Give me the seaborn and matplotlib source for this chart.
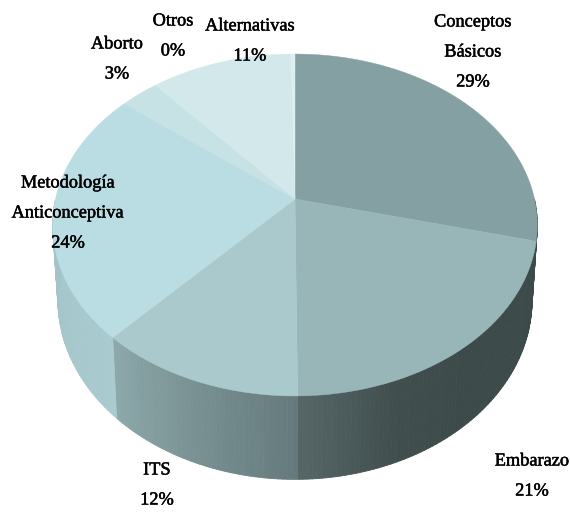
"""
Pie chart in perspective: temas (%) with a shaded outer wall.
Output: out.png
"""

import numpy as np
import matplotlib
matplotlib.use("Agg")
import matplotlib.pyplot as plt
import matplotlib.patheffects as pe
from matplotlib.collections import PolyCollection
import seaborn as sns

# ── Data ──────────────────────────────────────────────────────────────────────
categories = ["Conceptos\nBásicos", "Embarazo", "ITS", "Metodología\nAnticonceptiva",
              "Aborto", "Alternativas", "Otros"]
values = [29, 21, 12, 24, 3, 11, 0.3]
pct_labels = ["29%", "21%", "12%", "24%", "3%", "11%", "0%"]
top_colors = ["#84a0a2", "#98b6b8", "#a9c9cc", "#b9dde2", "#c6e2e5", "#d3e8ea", "#dfeeef"]
wall_stops = [["#3c4a4a", "#3c4a4a"],
              ["#3c4a4a", "#3c4a4a", "#3c4a4a", "#414f4f", "#566666"],
              ["#657a7c", "#8da8aa"],
              ["#a9cbcf", "#9dbcc0"],
              ["#a8c8cc", "#a8c8cc"],
              ["#a8c8cc", "#a8c8cc"],
              ["#a8c8cc", "#a8c8cc"]]
label_xy = [(473, 52), (532, 476), (157, 485), (68, 213), (117, 59), (250, 41), (173, 36)]

# projection of the unit circle
TILT = 0.152
TOP = dict(cx=295, cy=199, a=239.5, b=167)
BOTTOM = dict(cx=295, cy=273, a=234.3, b=175)


def project(theta, cx, cy, a, b):
    x, y = np.sin(theta), np.cos(theta)
    den = 1 + TILT * y
    return cx + a * x / den, cy - b * y / den


def main():
    sns.set_theme(style="white")
    plt.rcParams["font.family"] = ["Liberation Serif", "DejaVu Serif"]

    fig, ax = plt.subplots(figsize=(5.7, 5.15), dpi=100)
    ax.set_position([0, 0, 1, 1])
    ax.set_xlim(0, 570)
    ax.set_ylim(515, 0)
    ax.axis("off")

    shares = np.array(values) / np.sum(values)
    edges = np.concatenate([[0], np.cumsum(shares)]) * 2 * np.pi

    # ── Wall (front half only) ────────────────────────────────────────────────
    quads, colors = [], []
    for i in range(len(values)):
        n = max(2, int(np.degrees(edges[i + 1] - edges[i])))
        theta = np.linspace(edges[i], edges[i + 1], n + 1)
        shades = sns.blend_palette(wall_stops[i], n)
        tx, ty = project(theta, **TOP)
        bx, by = project(theta, **BOTTOM)
        for j in range(n):
            if np.cos(theta[j]) > 0 or np.cos(theta[j + 1]) > 0:
                continue
            quads.append([(tx[j], ty[j]), (tx[j + 1], ty[j + 1]),
                          (bx[j + 1], by[j + 1]), (bx[j], by[j])])
            colors.append(shades[j])
    ax.add_collection(PolyCollection(quads, facecolors=colors, edgecolors=colors, linewidths=0.6))

    # ── Top face ──────────────────────────────────────────────────────────────
    for i, color in enumerate(top_colors):
        theta = np.linspace(edges[i], edges[i + 1], 120)
        x, y = project(theta, **TOP)
        ax.fill(np.r_[TOP["cx"], x], np.r_[TOP["cy"], y], color=color, lw=0.3, zorder=3)

    # ── Labels ────────────────────────────────────────────────────────────────
    for name, pct, (x, y) in zip(categories, pct_labels, label_xy):
        ax.text(x, y, f"{name}\n{pct}", ha="center", va="center", fontsize=13.2,
                color="black", linespacing=2.0, zorder=5,
                path_effects=[pe.withStroke(linewidth=0.35, foreground="black")])

    fig.savefig("out.png", dpi=100)


if __name__ == "__main__":
    main()
